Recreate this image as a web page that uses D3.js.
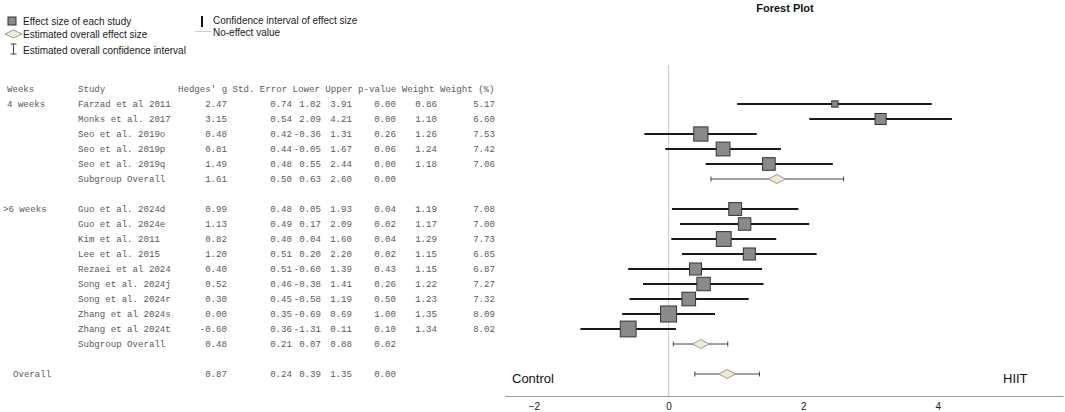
<!DOCTYPE html>
<html>
<head>
<meta charset="utf-8">
<script src="https://cdn.jsdelivr.net/npm/d3@7"></script>
<style>
  body { margin: 0; background: #fff; }
  text { font-family: "Liberation Sans", Arial, sans-serif; }
  .mono { font-family: "Liberation Mono", "Courier New", monospace; font-size: 9.1px; fill: #5a5a5a; white-space: pre; }
</style>
</head>
<body>
<div id="chart"></div>
<script>
const width = 1065
const height = 412

// study rows
const studyNames = ['Farzad et al 2011', 'Monks et al. 2017', 'Seo et al. 2019o', 'Seo et al. 2019p', 'Seo et al. 2019q',
  'Guo et al. 2024d', 'Guo et al. 2024e', 'Kim et al. 2011', 'Lee et al. 2015', 'Rezaei et al 2024',
  'Song et al. 2024j', 'Song et al. 2024r', 'Zhang et al 2024s', 'Zhang et al 2024t']
const studyGroup = [0, 0, 0, 0, 0, 1, 1, 1, 1, 1, 1, 1, 1, 1]
const hedgesG = [2.47, 3.15, 0.48, 0.81, 1.49, 0.99, 1.13, 0.82, 1.20, 0.40, 0.52, 0.30, 0.00, -0.60]
const stdError = [0.74, 0.54, 0.42, 0.44, 0.48, 0.48, 0.49, 0.40, 0.51, 0.51, 0.46, 0.45, 0.35, 0.36]
const lower = [1.02, 2.09, -0.36, -0.05, 0.55, 0.05, 0.17, 0.04, 0.20, -0.60, -0.38, -0.58, -0.69, -1.31]
const upper = [3.91, 4.21, 1.31, 1.67, 2.44, 1.93, 2.09, 1.60, 2.20, 1.39, 1.41, 1.19, 0.69, 0.11]
const pValue = [0.00, 0.00, 0.26, 0.06, 0.00, 0.04, 0.02, 0.04, 0.02, 0.43, 0.26, 0.50, 1.00, 0.10]
const weight = [0.86, 1.10, 1.26, 1.24, 1.18, 1.19, 1.17, 1.29, 1.15, 1.15, 1.22, 1.23, 1.35, 1.34]
const weightPct = [5.17, 6.60, 7.53, 7.42, 7.06, 7.08, 7.00, 7.73, 6.85, 6.87, 7.27, 7.32, 8.09, 8.02]

// subgroup + overall rows
const groupLabels = ['4 weeks', '>6 weeks']
const summaryLabels = ['Subgroup Overall', 'Subgroup Overall', 'Overall']
const summaryG = [1.61, 0.48, 0.87]
const summarySE = [0.50, 0.21, 0.24]
const summaryLower = [0.63, 0.07, 0.39]
const summaryUpper = [2.60, 0.88, 1.35]
const summaryP = [0.00, 0.02, 0.00]

const headers = ['Weeks', 'Study', "Hedges' g Std. Error Lower Upper p-value Weight Weight (%)"]
const xTicks = [-2, 0, 2, 4]

// build row list: header, group 0, subgroup, blank, group 1, subgroup, blank, overall
const rows = []
let idx = 1
groupLabels.forEach((label, gi) => {
  let first = true
  studyNames.forEach((name, i) => {
    if (studyGroup[i] !== gi) return
    rows.push({
      row: idx++, type: 'study', week: first ? label : '',
      name: name, g: hedgesG[i], se: stdError[i], lo: lower[i], hi: upper[i], p: pValue[i], w: weight[i], wp: weightPct[i]
    })
    first = false
  })
  rows.push({ row: idx++, type: 'summary', week: '', name: summaryLabels[gi], g: summaryG[gi], se: summarySE[gi], lo: summaryLower[gi], hi: summaryUpper[gi], p: summaryP[gi] })
  idx++
})
rows.push({ row: idx, type: 'overall', week: 'Overall', name: '', g: summaryG[2], se: summarySE[2], lo: summaryLower[2], hi: summaryUpper[2], p: summaryP[2] })

const svg = d3.select('#chart')
  .append('svg')
  .attr('width', width)
  .attr('height', height)

const x = d3.scaleLinear().domain([-2.43, 5.86]).range([505, 1063])
const y = d3.scaleLinear().domain([0, 1]).range([89, 104])
const side = d3.scaleLinear().domain([0.86, 1.35]).range([6.3, 16])

// ---- legend ----
const legend = svg.append('g').attr('font-size', 10).attr('fill', '#1a1a1a')
legend.append('rect').attr('x', 8).attr('y', 17).attr('width', 8).attr('height', 8)
  .attr('fill', '#8a8a8a').attr('stroke', '#333')
legend.append('text').attr('x', 23).attr('y', 25).text('Effect size of each study')
legend.append('path').attr('d', 'M5,34 L13.5,30 L22,34 L13.5,38 Z')
  .attr('fill', '#f1ecd6').attr('stroke', '#999')
legend.append('text').attr('x', 23).attr('y', 38).text('Estimated overall effect size')
legend.append('path').attr('d', 'M13.5,44 V54 M10.5,44 H16.5 M10.5,54 H16.5')
  .attr('stroke', '#444').attr('fill', 'none')
legend.append('text').attr('x', 23).attr('y', 54).text('Estimated overall confidence interval')
legend.append('line').attr('x1', 202).attr('x2', 202).attr('y1', 16).attr('y2', 27)
  .attr('stroke', '#111').attr('stroke-width', 2)
legend.append('text').attr('x', 213).attr('y', 24).text('Confidence interval of effect size')
legend.append('line').attr('x1', 195).attr('x2', 211).attr('y1', 31.5).attr('y2', 31.5)
  .attr('stroke', '#ccc')
legend.append('text').attr('x', 213).attr('y', 36).text('No-effect value')

svg.append('text').attr('x', 785).attr('y', 12).attr('text-anchor', 'middle')
  .attr('font-size', 11).attr('font-weight', 'bold').attr('fill', '#111')
  .text('Forest Plot')

// ---- table ----
const cols = [
  { x: 7, anchor: 'start' },
  { x: 78, anchor: 'start' },
  { x: 227, anchor: 'end' },
  { x: 292, anchor: 'end' },
  { x: 321, anchor: 'end' },
  { x: 352, anchor: 'end' },
  { x: 396, anchor: 'end' },
  { x: 437, anchor: 'end' },
  { x: 495, anchor: 'end' }
]
const hdrX = [7, 78, 178]
const table = svg.append('g')
table.selectAll('.hdr')
  .data(headers)
  .enter()
  .append('text')
  .attr('class', 'mono')
  .attr('x', (d, i) => hdrX[i])
  .attr('y', y(0) + 3)
  .text(d => d)

const f2 = d3.format('.2f')
rows.forEach(r => {
  const cells = [r.week, r.name, f2(r.g), f2(r.se), f2(r.lo), f2(r.hi), f2(r.p),
    r.type === 'study' ? f2(r.w) : '', r.type === 'study' ? f2(r.wp) : '']
  cells.forEach((c, ci) => {
    if (!c) return
    let cx = cols[ci].x
    if (ci === 0 && c === '>6 weeks') cx = 3
    if (ci === 0 && c === 'Overall') cx = 13
    table.append('text')
      .attr('class', 'mono')
      .attr('x', cx)
      .attr('y', y(r.row) + 3)
      .attr('text-anchor', cols[ci].anchor)
      .text(c.replace('\u2212', '-'))
  })
})

// ---- plot ----
svg.append('line')
  .attr('x1', x(0)).attr('x2', x(0))
  .attr('y1', 65).attr('y2', 396)
  .attr('stroke', '#cfcfcf').attr('stroke-width', 1.2)

const studyRows = rows.filter(r => r.type === 'study')
svg.selectAll('.ci')
  .data(studyRows)
  .enter()
  .append('line')
  .attr('x1', d => x(d.lo)).attr('x2', d => x(d.hi))
  .attr('y1', d => y(d.row)).attr('y2', d => y(d.row))
  .attr('stroke', '#1a1a1a').attr('stroke-width', 1.8)

svg.selectAll('.box')
  .data(studyRows)
  .enter()
  .append('rect')
  .attr('x', d => x(d.g) - side(d.w) / 2)
  .attr('y', d => y(d.row) - side(d.w) / 2)
  .attr('width', d => side(d.w))
  .attr('height', d => side(d.w))
  .attr('fill', '#8a8a8a')
  .attr('stroke', '#333')
  .attr('stroke-width', 1)

const sumRows = rows.filter(r => r.type !== 'study')
const sumG = svg.selectAll('.sum')
  .data(sumRows)
  .enter()
  .append('g')
  .attr('transform', d => `translate(0,${y(d.row)})`)
sumG.append('path')
  .attr('d', d => `M${x(d.lo)},0 H${x(d.hi)} M${x(d.lo)},-2.5 V2.5 M${x(d.hi)},-2.5 V2.5`)
  .attr('stroke', '#444').attr('stroke-width', 1).attr('fill', 'none')
sumG.append('path')
  .attr('d', d => `M${x(d.g) - 8.5},0 L${x(d.g)},-4.5 L${x(d.g) + 8.5},0 L${x(d.g)},4.5 Z`)
  .attr('fill', '#f0ead0').attr('stroke', '#999').attr('stroke-width', 1)

// ---- axis ----
const axis = svg.append('g')
  .attr('transform', 'translate(0,396)')
  .call(d3.axisBottom(x).tickValues(xTicks).tickSize(0).tickPadding(7).tickFormat(d3.format('d')))
axis.select('.domain').attr('stroke', '#999').attr('stroke-width', 1.2)
axis.selectAll('text').attr('font-size', 10).attr('fill', '#222')
  .attr('font-family', '"Liberation Sans", Arial, sans-serif')

svg.append('text').attr('x', 512).attr('y', 383).attr('font-size', 13).attr('fill', '#111').text('Control')
svg.append('text').attr('x', 1003).attr('y', 383).attr('font-size', 13).attr('fill', '#111').text('HIIT')
</script>
</body>
</html>
